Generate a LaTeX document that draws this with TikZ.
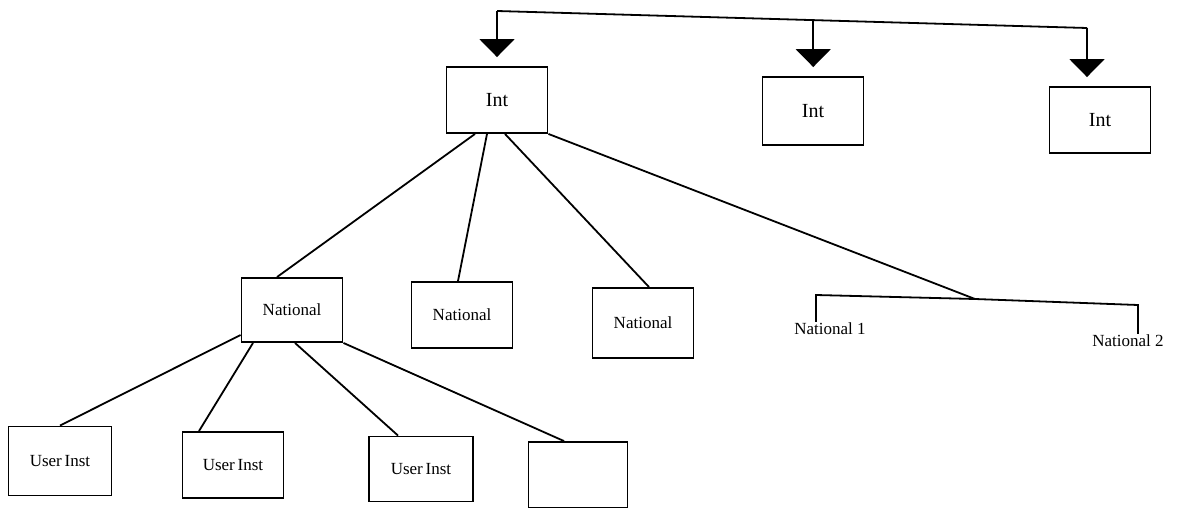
\documentclass[tikz,border=0pt]{standalone}
\usepackage{fontspec}
\setmainfont{Liberation Serif}
\usetikzlibrary{arrows.meta,calc}

\begin{document}
\begin{tikzpicture}[
    x=1pt, y=-1pt,
    box/.style={draw, line width=1.9pt, minimum width=101pt, minimum height=66pt, inner sep=0pt, font=\fontsize{17}{19}\selectfont},
    intbox/.style={box, font=\fontsize{20}{22}\selectfont},
    leaf/.style={inner sep=1pt, font=\fontsize{17}{19}\selectfont},
    wire/.style={line width=1.8pt},
    feed/.style={wire, -{Triangle[width=35pt,length=18pt]}, shorten >=9pt}
]
\useasboundingbox (0,0) rectangle (1181,508);

\node[intbox] (int1) at (497,100) {Int};
\node[intbox, minimum height=68pt] (int2) at (813,111) {Int};
\node[intbox] (int3) at (1100,120) {Int};

\node[box, minimum height=64pt] (nat1) at (292,310) {National};
\node[box] (nat2) at (462,315) {National};
\node[box, minimum height=70pt] (nat3) at (643,323) {National};

\node[leaf] (natA) at (830,329) {National 1};
\node[leaf] (natB) at (1128,341) {National 2};

\node[box, minimum width=103pt, minimum height=69pt] (usr1) at (60,461) {User\,Inst};
\node[box] (usr2) at (233,465) {User\,Inst};
\node[box, minimum width=104pt, minimum height=65pt] (usr3) at (421,469) {User\,Inst};
\node[box, minimum width=99pt] (usr4) at (578,475) {};

\coordinate (topL) at (497,11);
\coordinate (topR) at (1087,28);
\coordinate (topM) at ($(topL)!0.536!(topR)$);
\coordinate (fork) at (975,299);
\coordinate (brL) at (816,295);
\coordinate (brR) at (1138,305);

\draw[wire] (topL) -- (topR);
\draw[feed] (topL) -- (int1.north);
\draw[feed] (topM) -- (topM |- int2.north);
\draw[feed] (topR) -- (topR |- int3.north);

\draw[wire] ([xshift=-22pt]int1.south) -- ([xshift=-15pt]nat1.north);
\draw[wire] ([xshift=-10pt]int1.south) -- ([xshift=-4pt]nat2.north);
\draw[wire] ([xshift=8pt]int1.south) -- ([xshift=6pt]nat3.north);
\draw[wire] (int1.south east) -- (fork);

\draw[wire] (natA.north -| brL) -- (brL) -- (fork) -- (brR) -- (natB.north -| brR);

\draw[wire] ([yshift=-25pt]nat1.west) -- (usr1.north);
\draw[wire] ([xshift=-39pt]nat1.south) -- ([xshift=-34pt]usr2.north);
\draw[wire] ([xshift=3pt]nat1.south) -- ([xshift=-23pt]usr3.north);
\draw[wire] (nat1.south east) -- ([xshift=-14pt]usr4.north);
\end{tikzpicture}
\end{document}
